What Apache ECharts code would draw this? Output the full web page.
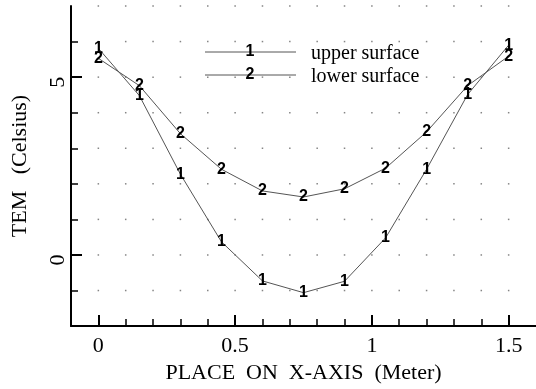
<!DOCTYPE html>
<html><head><meta charset="utf-8">
<script src="https://cdn.jsdelivr.net/npm/echarts@6/dist/echarts.min.js"></script>
<style>html,body{margin:0;padding:0;background:#fff}#c{width:536px;height:389px}</style>
</head><body><div id="c"></div>
<script>
// ---- data ----
const xPlace = [0, 0.15, 0.3, 0.45, 0.6, 0.75, 0.9, 1.05, 1.2, 1.35, 1.5];
const upperSurface = [5.81, 4.48, 2.27, 0.37, -0.73, -1.06, -0.74, 0.48, 2.41, 4.51, 5.9];
const lowerSurface = [5.53, 4.76, 3.41, 2.41, 1.80, 1.63, 1.86, 2.44, 3.46, 4.76, 5.59];
const seriesNames = ['upper surface', 'lower surface'];
const seriesMarks = ['1', '2'];
// ---- ticks ----
const xMajorTicks = [0, 0.5, 1, 1.5];
const xMinorTicks = [0.1, 0.2, 0.3, 0.4, 0.6, 0.7, 0.8, 0.9, 1.1, 1.2, 1.3, 1.4];
const yMajorTicks = [0, 5];
const yMinorTicks = [-1, 1, 2, 3, 4, 6];
const gridDotX = [0, 0.1, 0.2, 0.3, 0.4, 0.5, 0.6, 0.7, 0.8, 0.9, 1.0, 1.1, 1.2, 1.3, 1.4, 1.5];
const gridDotY = [-1, 0, 1, 2, 3, 4, 5, 6, 7];

const SERIF = 'Liberation Serif';
const SANS = 'Liberation Sans';

const dots = [];
gridDotX.forEach(x => gridDotY.forEach(y => dots.push([x, y])));

function lineSeries(idx, ys) {
  return {
    type: 'line', name: seriesNames[idx],
    data: xPlace.map((x, i) => [x, ys[i]]),
    symbol: 'circle', symbolSize: 1, showSymbol: true,
    itemStyle: { color: 'rgba(0,0,0,0)' },
    lineStyle: { color: '#555', width: 1 },
    label: { show: true, position: 'inside', formatter: seriesMarks[idx],
      color: '#000', fontFamily: SANS, fontSize: 16, fontWeight: 'bold' },
    emphasis: { disabled: true }, animation: false, z: 3
  };
}

const chart = echarts.init(document.getElementById('c'), null, { renderer: 'canvas' });
chart.setOption({
  animation: false,
  backgroundColor: '#fff',
  grid: { left: 71, right: 0, top: 6, bottom: 56 },
  xAxis: [{
    type: 'value', min: -0.1, max: 1.6, position: 'bottom',
    name: 'PLACE  ON  X-AXIS  (Meter)', nameLocation: 'middle', nameGap: 25,
    nameTextStyle: { fontFamily: SERIF, fontSize: 22, color: '#000' },
    axisLine: { show: true, onZero: false, lineStyle: { color: '#000', width: 2 } },
    axisTick: { show: true, inside: true, length: 11, customValues: xMajorTicks, lineStyle: { color: '#000', width: 2 } },
    axisLabel: { show: true, customValues: xMajorTicks, margin: 9, fontFamily: SERIF, fontSize: 22, color: '#000' },
    splitLine: { show: false }
  }, {
    type: 'value', min: -0.1, max: 1.6, position: 'bottom', offset: 0,
    axisLine: { show: false, onZero: false },
    axisTick: { show: true, inside: true, length: 7, customValues: xMinorTicks, lineStyle: { color: '#000', width: 1.5 } },
    axisLabel: { show: false }, splitLine: { show: false }
  }],
  yAxis: [{
    type: 'value', min: -2, max: 7, position: 'left',
    name: 'TEM   (Celsius)', nameLocation: 'middle', nameGap: 40, nameRotate: 90,
    nameTextStyle: { fontFamily: SERIF, fontSize: 22, color: '#000' },
    axisLine: { show: true, onZero: false, lineStyle: { color: '#000', width: 2 } },
    axisTick: { show: true, inside: true, length: 11, customValues: yMajorTicks, lineStyle: { color: '#000', width: 2 } },
    axisLabel: { show: true, customValues: yMajorTicks, rotate: 90, margin: 2, padding: [0, 10, 0, 0],
      fontFamily: SERIF, fontSize: 22, color: '#000' },
    splitLine: { show: false }
  }, {
    type: 'value', min: -2, max: 7, position: 'left', offset: 0,
    axisLine: { show: false, onZero: false },
    axisTick: { show: true, inside: true, length: 7, customValues: yMinorTicks, lineStyle: { color: '#000', width: 1.5 } },
    axisLabel: { show: false }, splitLine: { show: false }
  }],
  series: [
    { type: 'scatter', data: dots, symbol: 'rect', symbolSize: 1.5, silent: true,
      itemStyle: { color: '#666' }, z: 1, animation: false },
    lineSeries(0, upperSurface),
    lineSeries(1, lowerSurface)
  ],
  graphic: [
    { type: 'line', shape: { x1: 205, y1: 52, x2: 296, y2: 52 }, style: { stroke: '#555', lineWidth: 1 } },
    { type: 'line', shape: { x1: 205, y1: 75, x2: 296, y2: 75 }, style: { stroke: '#555', lineWidth: 1 } },
    { type: 'text', x: 250, y: 52, style: { text: seriesMarks[0], fill: '#000', font: 'bold 16px ' + SANS, align: 'center', verticalAlign: 'middle' } },
    { type: 'text', x: 250, y: 75, style: { text: seriesMarks[1], fill: '#000', font: 'bold 16px ' + SANS, align: 'center', verticalAlign: 'middle' } },
    { type: 'text', x: 311, y: 54, style: { text: seriesNames[0], fill: '#000', font: '20px ' + SERIF, align: 'left', verticalAlign: 'middle' } },
    { type: 'text', x: 311, y: 77, style: { text: seriesNames[1], fill: '#000', font: '20px ' + SERIF, align: 'left', verticalAlign: 'middle' } }
  ]
});
</script></body></html>
